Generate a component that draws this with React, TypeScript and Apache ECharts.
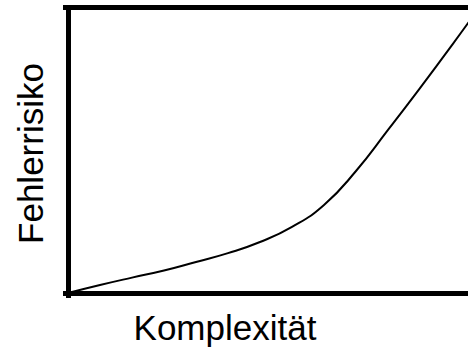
import React, { useEffect, useRef } from "react";
import * as echarts from "echarts";

// Komplexität (0..100) vs Fehlerrisiko (0..100)
const complexity = [0, 8, 16, 24, 32, 40, 48, 56, 64, 72, 80, 88, 96, 104];
const risk = [0, 2.8, 5.4, 7.9, 10.9, 14.0, 17.9, 23.2, 30.9, 42.8, 57.2, 71.9, 87.0, 102.5];
const xTitle = "Komplexität";
const yTitle = "Fehlerrisiko";

export default function App() {
  const ref = useRef<HTMLDivElement>(null);
  useEffect(() => {
    if (!ref.current) return;
    const chart = echarts.init(ref.current, null, { renderer: "svg" });
    const data = complexity.map((c, i) => [c, risk[i]]);
    const frame = { show: true, lineStyle: { color: "#000", width: 5, cap: "square" } };
    const hidden = {
      axisTick: { show: false },
      axisLabel: { show: false },
      splitLine: { show: false },
    };
    chart.setOption({
      animation: false,
      backgroundColor: "#fff",
      grid: {
        left: 65.5,
        top: 7.5,
        bottom: 51.5,
        right: 0,
        outerBoundsMode: "none",
        containLabel: false,
      },
      xAxis: [
        { type: "value", position: "bottom", min: -0.625, max: 100, axisLine: frame, ...hidden },
        { type: "value", position: "top", min: -0.625, max: 100, axisLine: frame, ...hidden },
      ],
      yAxis: {
        type: "value",
        position: "left",
        min: -0.877,
        max: 100.175,
        axisLine: frame,
        ...hidden,
      },
      series: [
        {
          type: "line",
          data,
          smooth: 0.5,
          symbol: "none",
          lineStyle: { color: "#000", width: 2 },
        },
      ],
      graphic: [
        {
          type: "text",
          x: 225,
          y: 327,
          style: {
            text: xTitle,
            fontFamily: "Liberation Sans",
            fontSize: 35,
            fill: "#000",
            textAlign: "center",
            textVerticalAlign: "middle",
          },
        },
        {
          type: "text",
          x: 30.5,
          y: 153.5,
          rotation: Math.PI / 2,
          style: {
            text: yTitle,
            fontFamily: "Liberation Sans",
            fontSize: 35,
            fill: "#000",
            textAlign: "center",
            textVerticalAlign: "middle",
          },
        },
      ],
    });
    return () => chart.dispose();
  }, []);
  return (
    <div
      ref={ref}
      style={{ position: "fixed", left: 0, top: 0, width: 468, height: 347 }}
    />
  );
}
